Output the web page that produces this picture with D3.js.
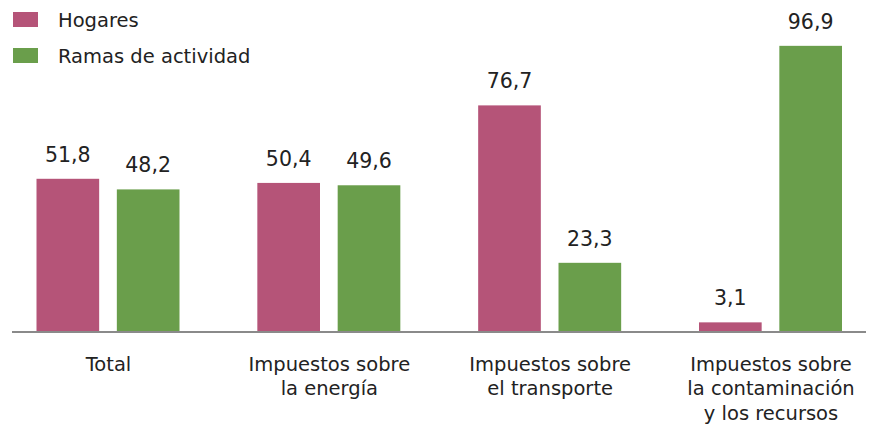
<!DOCTYPE html>
<html>
<head>
<meta charset="utf-8">
<script src="https://cdn.jsdelivr.net/npm/d3@7"></script>
<style>
  body { margin: 0; background: #fff; }
  svg { display: block; }
  text { fill: #222; font-family: "DejaVu Sans", sans-serif; }
</style>
</head>
<body>
<svg id="canvas" width="872" height="424"></svg>
<script>
// chart values
const categories = [
    ["Total"],
    ["Impuestos sobre", "la energía"],
    ["Impuestos sobre", "el transporte"],
    ["Impuestos sobre", "la contaminación", "y los recursos"]
];
const seriesNames = ["Hogares", "Ramas de actividad"];
const hogares = [51.8, 50.4, 76.7, 3.1];
const ramas = [48.2, 49.6, 23.3, 96.9];
const colors = ["#b55478", "#6a9e4b"];

const fmt = v => v.toFixed(1).replace(".", ",");

const baseline = 331.5;
const svg = d3.select("#canvas");

const catKeys = categories.map(c => c.join("|"));

// group centres
const x0 = d3.scalePoint()
    .domain(catKeys)
    .range([108, 770.5]);

// bars inside a group
const x1 = d3.scaleBand()
    .domain(seriesNames)
    .range([-71.5, 71.5])
    .paddingInner(0.22);

const y = d3.scaleLinear()
    .domain([0, 100])
    .range([baseline, baseline - 294.8]);

const rows = catKeys.map((k, i) => ({
    key: k,
    values: [
        { name: seriesNames[0], val: hogares[i], color: colors[0] },
        { name: seriesNames[1], val: ramas[i], color: colors[1] }
    ]
}));

const groups = svg.selectAll(".group")
    .data(rows)
    .join("g")
    .classed("group", true)
    .attr("transform", d => "translate(" + x0(d.key) + ",0)");

groups.selectAll("rect")
    .data(d => d.values)
    .join("rect")
    .attr("x", d => x1(d.name))
    .attr("width", x1.bandwidth())
    .attr("y", d => y(d.val))
    .attr("height", d => y(0) - y(d.val))
    .attr("fill", d => d.color);

groups.selectAll(".val")
    .data(d => d.values)
    .join("text")
    .classed("val", true)
    .attr("x", d => x1(d.name) + x1.bandwidth() / 2)
    .attr("y", d => y(d.val) - 17)
    .attr("text-anchor", "middle")
    .style("font-size", "20.5px")
    .text(d => fmt(d.val));

// axis line
svg.append("line")
    .attr("x1", 12).attr("x2", 866)
    .attr("y1", baseline + 0.5).attr("y2", baseline + 0.5)
    .attr("stroke", "#8a8a8a")
    .attr("stroke-width", 2);

// category labels
const xAxis = svg.append("g")
    .attr("transform", "translate(0," + baseline + ")")
    .call(d3.axisBottom(x0).tickSize(0).tickFormat(""));
xAxis.select(".domain").remove();

xAxis.selectAll(".tick")
    .append("text")
    .attr("text-anchor", "middle")
    .style("font-size", "19.5px")
    .style("font-family", "'DejaVu Sans', sans-serif")
    .style("fill", "#222")
    .selectAll("tspan")
    .data(d => d.split("|"))
    .join("tspan")
    .attr("x", 0)
    .attr("y", (d, i) => 39 + i * 24.5)
    .text(d => d);

// legend
const legend = svg.append("g")
    .selectAll("g")
    .data(seriesNames)
    .join("g")
    .attr("transform", (d, i) => "translate(13," + (12 + i * 36) + ")");

legend.append("rect")
    .attr("width", 25)
    .attr("height", 15)
    .attr("fill", (d, i) => colors[i]);

legend.append("text")
    .attr("x", 45)
    .attr("y", 15)
    .style("font-size", "19.5px")
    .text(d => d);
</script>
</body>
</html>
